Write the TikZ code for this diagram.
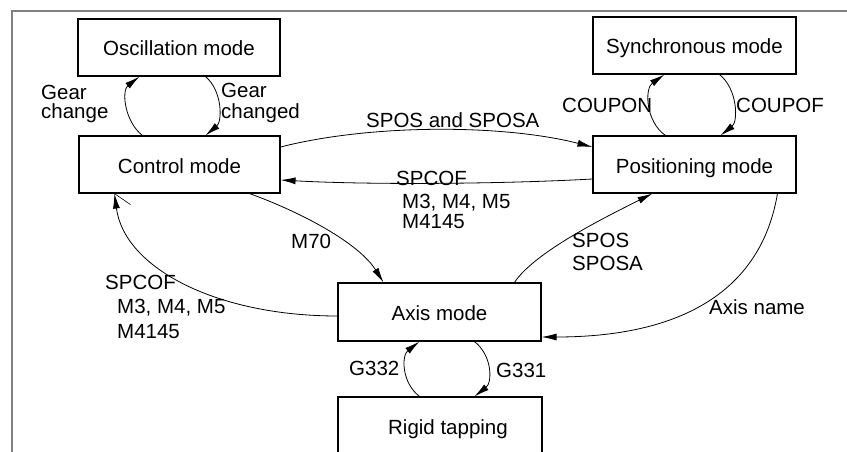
\documentclass[tikz,border=0pt]{standalone}
\usepackage{fontspec}
\setmainfont{Liberation Sans}
\usetikzlibrary{arrows.meta}
\tikzset{
  box/.style={draw, line width=1.1pt, inner sep=0pt, text height=17pt, text depth=0pt,
    font=\fontsize{20.5pt}{24pt}\selectfont, minimum height=57pt},
  lbl/.style={anchor=base west, inner sep=0pt, font=\fontsize{20.5pt}{24pt}\selectfont},
  conn/.style={line width=0.8pt, -{Latex[length=15pt,width=7pt]}},
  frame/.style={draw=black!50, line width=1.5pt}
}
\begin{document}
\begin{tikzpicture}[x=1pt,y=-1pt]
\useasboundingbox (0,0) rectangle (847,452);
\clip (0,0) rectangle (847,452);
\fill[white] (0,0) rectangle (847,452);
% frame
\coordinate (fa) at (12,452);
\coordinate (fb) at (12,11);
\coordinate (fc) at (850,11);
\draw[frame] (fa) -- (fb) -- (fc);
% boxes
\node[box, minimum width=202pt] (osc) at (179,47.5) {Oscillation mode};
\node[box, minimum width=201pt] (ctrl) at (179.5,164.5) {Control mode};
\node[box, minimum width=203pt] (sync) at (694.5,45.5) {Synchronous mode};
\node[box, minimum width=203pt] (pos) at (694.5,164.5) {Positioning mode};
\node[box, minimum width=203pt, minimum height=58pt] (axis) at (439.5,312) {Axis mode};
\node[box, minimum width=204pt, minimum height=58pt] (rigid) at (440,426) {\hspace*{16pt}Rigid tapping};
% connectors
\draw[conn] ([xshift=64pt]ctrl.north west) .. controls +(-18,-14) and +(-18,14) .. ([xshift=62pt]osc.south west);
\draw[conn] ([xshift=128pt]osc.south west) .. controls +(17,14) and +(17,-14) .. ([xshift=127pt]ctrl.north west);
\draw[conn] ([yshift=17.5pt]ctrl.east) .. controls +(90,-23) and +(-90,-23) .. ([yshift=17.5pt]pos.west);
\draw[conn] ([yshift=-14.5pt]pos.west) .. controls +(-90,5) and +(90,5) .. ([yshift=-15.5pt]ctrl.east);
\draw[conn] ([xshift=171pt]ctrl.south west) .. controls +(50,18) and +(-25,-40) .. ([xshift=46pt]axis.north west);
\draw[conn] ([yshift=-4pt]axis.west) .. controls +(-120,0) and +(10,75) .. ([xshift=36pt]ctrl.south west);
\draw[line width=0.6pt] ([xshift=36pt]ctrl.south west) -- +(16,11);
\draw[conn] ([xshift=177pt]axis.north west) .. controls +(20,-30) and +(-50,25) .. ([xshift=60pt]pos.south west);
\draw[conn] ([xshift=185pt]pos.south west) .. controls +(-15,90) and +(150,0) .. ([yshift=-25pt]axis.east);
\draw[conn] ([xshift=73pt]pos.north west) .. controls +(-20,-14) and +(-20,14) .. ([xshift=72pt]sync.south west);
\draw[conn] ([xshift=127pt]sync.south west) .. controls +(18,14) and +(18,-14) .. ([xshift=128pt]pos.north west);
\draw[conn] ([xshift=82pt]rigid.north west) .. controls +(-18,-14) and +(-18,14) .. ([xshift=82pt]axis.south west);
\draw[conn] ([xshift=137pt]axis.south west) .. controls +(18,14) and +(18,-14) .. ([xshift=137pt]rigid.north west);
% labels
\node[lbl] (gcA) at (41,99.5) {Gear};
\node[lbl] (gcB) at (41,119) {change};
\node[lbl] (gdA) at (221,98) {Gear};
\node[lbl] (gdB) at (221,118) {changed};
\node[lbl] (sp) at (366,128) {SPOS and SPOSA};
\node[lbl] (scA) at (396,185) {SPCOF};
\node[lbl] (scB) at (402,208) {M3, M4, M5};
\node[lbl] (scC) at (402,228) {M4145};
\node[lbl] (m70) at (291,248) {M70};
\node[lbl] (slA) at (105,289) {SPCOF};
\node[lbl] (slB) at (117,313) {M3, M4, M5};
\node[lbl] (slC) at (117,338) {M4145};
\node[lbl] (ssA) at (572,247) {SPOS};
\node[lbl] (ssB) at (572,270) {SPOSA};
\node[lbl] (an) at (709,314) {Axis name};
\node[lbl] (con) at (562,113) {COUPON};
\node[lbl] (cof) at (736,113) {COUPOF};
\node[lbl] (g332) at (349,375) {G332};
\node[lbl] (g331) at (496,377) {G331};
\end{tikzpicture}
\end{document}
